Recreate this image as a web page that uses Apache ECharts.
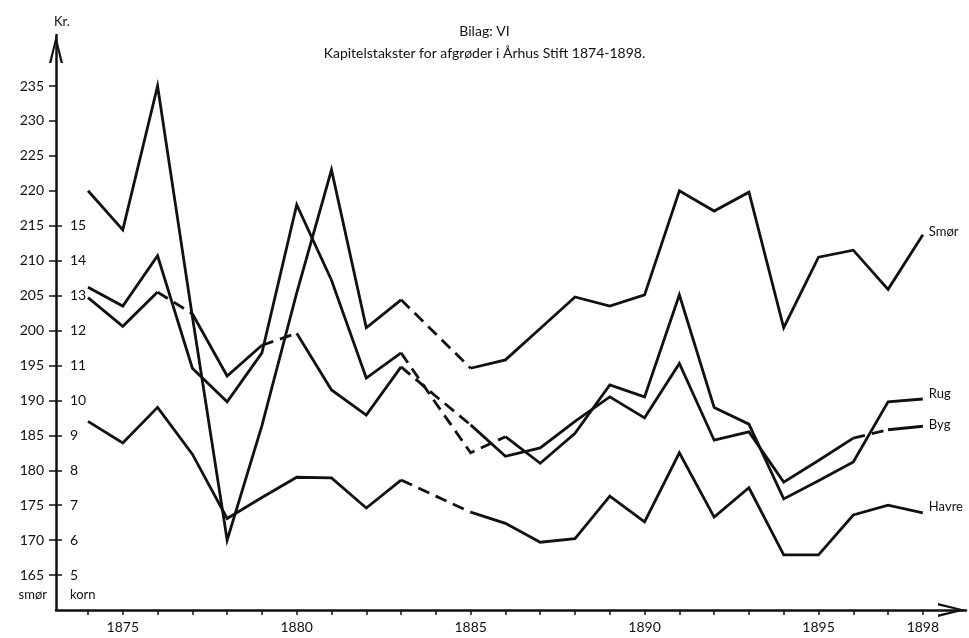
<!DOCTYPE html>
<html>
<head>
<meta charset="utf-8">
<script src="https://cdn.jsdelivr.net/npm/echarts@6/dist/echarts.min.js"></script>
<style>
  html, body { margin: 0; padding: 0; background: #fff; }
  #chart { width: 969px; height: 638px; }
</style>
</head>
<body>
<div id="chart"></div>
<script>
// years on the x axis
const years = [1874, 1875, 1876, 1877, 1878, 1879, 1880, 1881, 1882, 1883, 1884, 1885, 1886,
  1887, 1888, 1889, 1890, 1891, 1892, 1893, 1894, 1895, 1896, 1897, 1898]
const yearLabels = [1875, 1880, 1885, 1890, 1895, 1898]
const smorTicks = [165, 170, 175, 180, 185, 190, 195, 200, 205, 210, 215, 220, 225, 230, 235]
const kornTicks = [5, 6, 7, 8, 9, 10, 11, 12, 13, 14, 15]

// smør, kr. (left scale)
const smor = [220, 214.4, 235, 202, 170, 186.4, 205.4, 223, 200.4, 204.4, 199.5, 194.6, 195.8,
  200.3, 204.8, 203.5, 205.1, 220, 217.1, 219.8, 200.4, 210.5, 211.5, 205.9, 213.7]
// korn, kr. (inner scale)
const rug = [13.24, 12.7, 14.14, 10.92, 9.96, 11.36, 15.6, 13.44, 10.64, 11.36, 9.92, 8.5, 8.96,
  8.2, 9.06, 10.44, 10.1, 13.02, 9.8, 9.32, 7.18, 7.7, 8.24, 9.96, 10.04]
const byg = [12.94, 12.12, 13.1, 12.48, 10.7, 11.58, 11.92, 10.3, 9.58, 10.96, 10.12, 9.3, 8.4,
  8.64, 9.4, 10.1, 9.5, 11.06, 8.86, 9.1, 7.66, 8.28, 8.92, 9.16, 9.26]
const havre = [9.4, 8.78, 9.8, 8.46, 6.62, 7.22, 7.8, 7.78, 6.92, 7.72, 7.26, 6.8, 6.48,
  5.94, 6.04, 7.26, 6.52, 8.5, 6.66, 7.5, 5.58, 5.58, 6.72, 7.0, 6.78]

// stretches drawn dashed (from year, to year)
const smorDashed = [[1883, 1885]]
const rugDashed = [[1883, 1886]]
const bygDashed = [[1876, 1877], [1879, 1880], [1883, 1885], [1896, 1897]]
const havreDashed = [[1883, 1885]]

const FONT = 'Lato, "Open Sans", sans-serif'
const INK = '#111'
const arrow = 'path://M0,28 L7,0 L14,28 L11.6,28 L7,8 L2.4,28 Z'

function isDashed(ranges, a, b) {
  return ranges.some(r => a >= r[0] && b <= r[1])
}

// split one crop into runs of solid / dashed segments
function buildSeries(name, values, dashed, yAxisIndex, labelOffset) {
  const runs = []
  for (let i = 0; i < years.length - 1; i++) {
    const d = isDashed(dashed, years[i], years[i + 1])
    const last = runs[runs.length - 1]
    if (last && last.dashed === d) {
      last.data.push([years[i + 1], values[i + 1]])
    } else {
      runs.push({ dashed: d, data: [[years[i], values[i]], [years[i + 1], values[i + 1]]] })
    }
  }
  return runs.map((run, idx) => ({
    type: 'line',
    name: name,
    yAxisIndex: yAxisIndex,
    data: run.data,
    showSymbol: false,
    silent: true,
    animation: false,
    lineStyle: { color: INK, width: 2.8, type: run.dashed ? [12, 7] : 'solid', cap: 'butt', join: 'miter' },
    endLabel: {
      show: idx === runs.length - 1,
      formatter: name,
      color: INK,
      fontSize: 13,
      fontFamily: FONT,
      distance: 6,
      offset: labelOffset
    }
  }))
}

const chart = echarts.init(document.getElementById('chart'))

chart.setOption({
  backgroundColor: '#fff',
  animation: false,
  title: [
    {
      left: 'center',
      top: 19,
      text: 'Bilag: VI',
      subtext: 'Kapitelstakster for afgrøder i Århus Stift 1874-1898.',
      itemGap: 8,
      textStyle: { fontFamily: FONT, fontSize: 14, fontWeight: 'normal', color: INK },
      subtextStyle: { fontFamily: FONT, fontSize: 14, color: INK }
    },
    {
      left: 49,
      top: 10,
      text: 'Kr.',
      textStyle: { fontFamily: FONT, fontSize: 13, fontWeight: 'normal', color: INK }
    }
  ],
  grid: { left: 56, right: 3, top: 35, bottom: 28, outerBoundsMode: 'none' },
  xAxis: {
    type: 'value',
    min: 1873.08,
    max: 1899.24,
    axisLine: {
      show: true,
      onZero: false,
      lineStyle: { color: INK, width: 2.5 },
      symbol: ['none', arrow],
      symbolSize: [14, 28],
      symbolOffset: [0, -14]
    },
    axisTick: { show: true, customValues: years, length: 5, lineStyle: { color: INK, width: 1.5 } },
    axisLabel: {
      customValues: yearLabels,
      formatter: v => String(v),
      margin: 10,
      color: INK,
      fontSize: 14,
      fontFamily: FONT
    },
    splitLine: { show: false }
  },
  yAxis: [
    {
      type: 'value',
      min: 160,
      max: 242.3,
      position: 'left',
      name: 'smør',
      nameLocation: 'start',
      nameGap: -15,
      nameTextStyle: { fontFamily: FONT, fontSize: 13, color: INK, align: 'right', verticalAlign: 'middle', padding: [0, 9, 0, 0] },
      axisLine: {
        show: true,
        onZero: false,
        lineStyle: { color: INK, width: 2.5 },
        symbol: ['none', arrow],
        symbolSize: [14, 28],
        symbolOffset: [0, -14]
      },
      axisTick: { show: true, customValues: smorTicks, length: 7, lineStyle: { color: INK, width: 1.5 } },
      axisLabel: { customValues: smorTicks, margin: 12, color: INK, fontSize: 14, fontFamily: FONT },
      splitLine: { show: false }
    },
    {
      type: 'value',
      min: 4,
      max: 20.46,
      position: 'left',
      name: 'korn',
      nameLocation: 'start',
      nameGap: -15,
      nameTextStyle: { fontFamily: FONT, fontSize: 13, color: INK, align: 'left', verticalAlign: 'middle', padding: [0, 0, 0, 14] },
      axisLine: { show: false, onZero: false },
      axisTick: { show: true, inside: true, customValues: kornTicks, length: 6, lineStyle: { color: INK, width: 1.5 } },
      axisLabel: { inside: true, customValues: kornTicks, margin: 14, color: INK, fontSize: 14, fontFamily: FONT },
      splitLine: { show: false }
    }
  ],
  series: [
    ...buildSeries('Smør', smor, smorDashed, 0, [0, -3]),
    ...buildSeries('Rug', rug, rugDashed, 1, [0, -5]),
    ...buildSeries('Byg', byg, bygDashed, 1, [0, -1]),
    ...buildSeries('Havre', havre, havreDashed, 1, [0, -6])
  ]
})
</script>
</body>
</html>
